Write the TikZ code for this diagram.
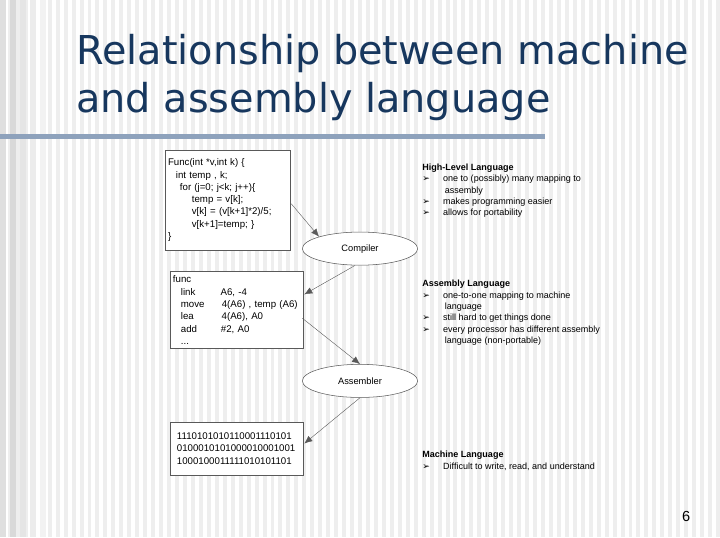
\documentclass[tikz,border=0pt]{standalone}
\usepackage{fontspec}
\setmainfont{Liberation Sans}
\newfontfamily\titlefont{DejaVu Sans}
\newfontfamily\symfont{DejaVu Sans}
\usetikzlibrary{shapes.geometric}
\usetikzlibrary{arrows.meta}

\definecolor{titleblue}{HTML}{17375E}
\definecolor{rulegray}{HTML}{8EA2BC}
\definecolor{stripe}{HTML}{EEEEEE}
\newcommand{\bul}{{\symfont\char"27A2}\hspace{10pt}}

\begin{document}
\begin{tikzpicture}[x=0.75pt, y=-0.75pt,
    codebox/.style={draw=gray!70!black, fill=white, inner xsep=2pt, inner ysep=1pt,
      anchor=north west, align=left, font=\fontsize{7.3}{9.3}\selectfont},
    tool/.style={draw=gray!70!black, ellipse, fill=white, minimum width=87pt,
      minimum height=25pt, font=\fontsize{7}{8}\selectfont},
    note/.style={anchor=north west, align=left, font=\fontsize{6.8}{8.6}\selectfont},
    flow/.style={-{Latex[length=6pt,width=5pt]}, draw=gray!70!black, line width=0.3pt}]

  \fill[white] (0,0) rectangle (720,540);
  \foreach \i in {0,8,...,720} {\fill[stripe] (\i,0) rectangle ++(4,540);}
  \foreach \i/\c in {0/gray!25,10/gray!30,20/gray!20,30/gray!15,40/gray!10} {
    \fill[\c] (\i,0) rectangle ++(6,540);}
  \fill[rulegray] (0,135) rectangle (548,140);

  % title
  \node[anchor=north west, align=left, text=titleblue,
    font=\titlefont\fontsize{30}{36}\selectfont] (title) at (72,30)
    {Relationship between machine\\and assembly language};

  % code boxes
  \node[codebox, text width=90pt, minimum height=75pt] (hll) at (166,151) {%
    Func(int *v,int k) \{\\
    \hspace*{6pt}int temp , k;\\
    \hspace*{9pt}for (j=0; j<k; j++)\{\\
    \hspace*{18pt}temp = v[k];\\
    \hspace*{18pt}v[k] = (v[k+1]*2)/5;\\
    \hspace*{18pt}v[k+1]=temp; \}\\
    \}};
  \node[codebox, text width=96pt, minimum height=58pt] (asm) at (171,273) {%
    func\\
    \hspace*{6pt}link\hspace{19pt}A6, -4\\
    \hspace*{6pt}move\hspace{13pt}4(A6) , temp (A6)\\
    \hspace*{6pt}lea\hspace{21pt}4(A6), A0\\
    \hspace*{6pt}add\hspace{18pt}\#2, A0\\
    \hspace*{6pt}...};
  \node[codebox, text width=96pt, minimum height=40pt] (mach) at (171,424) {%
    \hspace*{3pt}1110101010110001110101\\
    \hspace*{3pt}0100010101000010001001\\
    \hspace*{3pt}1000100011111010101101};

  % tools
  \node[tool] (compiler) at (362,250) {Compiler};
  \node[tool] (assembler) at (362,383) {Assembler};

  \coordinate (c1) at (293,205);
  \coordinate (c2) at (304,320);
  \draw[flow] (c1) -- (compiler.north west);
  \draw[flow] (compiler.south) ++(-5,0) -- (306,296);
  \draw[flow] (c2) -- (compiler.south |- assembler.north);
  \draw[flow] (assembler.south) -- (306,446);

  % notes
  \node[note] (hllnote) at (420,160) {\textbf{High-Level Language}\\
    \bul one to (possibly) many mapping to\\
    \hspace*{17pt}assembly\\
    \bul makes programming easier\\
    \bul allows for portability};
  \node[note] (asmnote) at (420,277) {\textbf{Assembly Language}\\
    \bul one-to-one mapping to machine\\
    \hspace*{17pt}language\\
    \bul still hard to get things done\\
    \bul every processor has different assembly\\
    \hspace*{17pt}language (non-portable)};
  \node[note] (machnote) at (420,449) {\textbf{Machine Language}\\
    \bul Difficult to write, read, and understand};

  \node[font=\fontsize{11}{12}\selectfont] (pagenum) at (690,519) {6};
\end{tikzpicture}
\end{document}
